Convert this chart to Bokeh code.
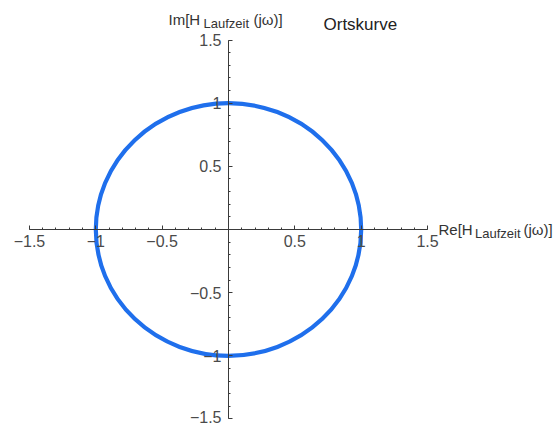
import numpy as np
from bokeh.plotting import figure
from bokeh.models import LinearAxis, FixedTicker, Label
from bokeh.embed import file_html
from bokeh.resources import INLINE

# Ortskurve of a pure delay element: H(jw) = exp(-j w T), |H| = 1 for every w
center_re = [0.0]
center_im = [0.0]
magnitude = [1.0]

x_tick_values = [-1.5, -1.0, -0.5, 0.5, 1.0, 1.5]
x_tick_labels = ["\u22121.5", "\u22121", "\u22120.5", "0.5", "1", "1.5"]
y_tick_values = [-1.5, -1.0, -0.5, 0.5, 1.0, 1.5]
y_tick_labels = ["\u22121.5", "\u22121", "\u22120.5", "0.5", "1", "1.5"]

W, H = 559, 426
# pixel scale of the frame
sx, sy = 132.7, 126.3
ox, oy = 228.0, 229.0          # origin in canvas pixels
x0 = -ox / sx
x1 = (W - ox) / sx
y1 = oy / sy
y0 = -(H - oy) / sy

p = figure(width=W, height=H, x_range=(x0, x1), y_range=(y0, y1),
           x_axis_type=None, y_axis_type=None, min_border=0,
           toolbar_location=None, output_backend="svg",
           background_fill_color="white", border_fill_color="white")
p.outline_line_color = None
p.xgrid.visible = False
p.ygrid.visible = False

minor = [round(v, 1) for v in np.arange(-1.5, 1.55, 0.1)]

xaxis = LinearAxis(fixed_location=0, bounds=(-1.5, 1.5),
                   ticker=FixedTicker(ticks=x_tick_values, minor_ticks=minor))
yaxis = LinearAxis(fixed_location=0, bounds=(-1.5, 1.5),
                   ticker=FixedTicker(ticks=y_tick_values, minor_ticks=minor))
xaxis.major_label_overrides = {v: l for v, l in zip(x_tick_values, x_tick_labels)}
# the lowest y label sits at the very bottom edge; it is drawn separately below
yaxis.major_label_overrides = {v: ("" if v == y_tick_values[0] else l)
                               for v, l in zip(y_tick_values, y_tick_labels)}

for ax in (xaxis, yaxis):
    ax.axis_line_color = "#3a3a3a"
    ax.axis_line_width = 1
    ax.major_tick_line_color = "#3a3a3a"
    ax.minor_tick_line_color = "#3a3a3a"
    ax.major_tick_in = 4
    ax.major_tick_out = 0
    ax.minor_tick_in = 2
    ax.minor_tick_out = 0
    ax.major_label_text_font = "Liberation Sans"
    ax.major_label_text_font_size = "16px"
    ax.major_label_text_color = "#4a4a4a"
    ax.major_label_standoff = 5
yaxis.major_label_standoff = 7

p.add_layout(xaxis, "below")
p.add_layout(yaxis, "left")

p.ellipse(x=center_re, y=center_im,
          width=[2 * m for m in magnitude], height=[2 * m for m in magnitude],
          fill_color=None, line_color="#1f6fec", line_width=4.2)


def px(xp, yp):
    return x0 + xp / sx, y1 - yp / sy


def put(text, xp, base, size, color="#333333", align="left"):
    # place text by its baseline (in canvas pixels) using a middle anchor
    mid = base - 0.3465 * size
    x, y = px(xp, mid)
    p.add_layout(Label(x=x, y=y, text=text, text_font="Liberation Sans",
                       text_font_size=f"{size}px", text_color=color,
                       text_baseline="middle", text_align=align))


# lowest y tick label
put(y_tick_labels[0], 221, 422.5, 16, "#4a4a4a", "right")

# Im[H_Laufzeit(jw)] above the vertical axis
put("Im[H", 168, 24, 15)
put("Laufzeit", 203, 27.5, 13)
put("(j\u03c9)]", 253, 24, 15)

# Re[H_Laufzeit(jw)] at the right end of the horizontal axis
put("Re[H", 438, 234, 15)
put("Laufzeit", 474.5, 238, 13)
put("(j\u03c9)]", 523, 234, 15)

put("Ortskurve", 323, 29.5, 17, "#222222")

open("out.html", "w").write(file_html(p, INLINE))
